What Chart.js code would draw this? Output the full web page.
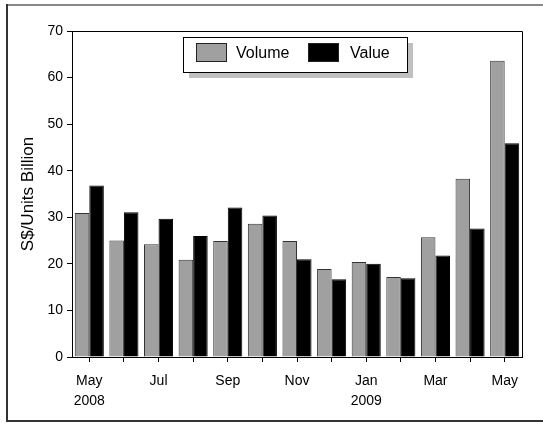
<!DOCTYPE html>
<html>
<head>
<meta charset="utf-8">
<script src="https://cdn.jsdelivr.net/npm/chart.js@4/dist/chart.umd.min.js"></script>
<style>
html,body{margin:0;padding:0;background:#fff;}
#wrap{width:543px;height:423px;position:relative;}
</style>
</head>
<body>
<div id="wrap"><canvas id="c" width="543" height="423"></canvas></div>
<script>
const categories = [["May","2008"],"",["Jul"],"",["Sep"],"",["Nov"],"",["Jan","2009"],"",["Mar"],"",["May"]];
const volume = [30.9,25.0,24.2,20.9,24.9,28.6,24.9,18.9,20.4,17.2,25.7,38.3,63.6];
const value  = [36.8,31.1,29.7,26.0,32.1,30.4,21.0,16.7,20.0,16.9,21.8,27.6,45.9];
const yTicks = [0,10,20,30,40,50,60,70];

const FONT = "'Liberation Sans', Arial, sans-serif";

const framePlugin = {
  id: 'frame',
  beforeDraw(chart) {
    const ctx = chart.ctx;
    ctx.save();
    ctx.fillStyle = '#fff';
    ctx.fillRect(0, 0, chart.width, chart.height);
    // outer frame (right edge falls outside the picture)
    ctx.fillStyle = '#888';
    ctx.fillRect(6, 4, chart.width - 6, 2);
    ctx.fillStyle = '#333';
    ctx.fillRect(6, 4, 2, 418);
    ctx.fillRect(6, 420, chart.width - 6, 2);
    ctx.restore();
  },
  afterDraw(chart) {
    const ctx = chart.ctx;
    const a = chart.chartArea;
    ctx.save();
    ctx.strokeStyle = '#000';
    ctx.lineWidth = 1;
    ctx.beginPath();
    ctx.moveTo(Math.round(a.left) + 0.5, Math.round(a.top) + 0.5);
    ctx.lineTo(Math.round(a.right) + 0.5, Math.round(a.top) + 0.5);
    ctx.lineTo(Math.round(a.right) + 0.5, Math.round(a.bottom) + 0.5);
    ctx.stroke();

    // legend with shadow
    const lx = 183, ly = 37, lw = 224, lh = 35;
    ctx.fillStyle = '#c0c0c0';
    ctx.fillRect(lx + 6, ly + 6, lw, lh);
    ctx.fillStyle = '#fff';
    ctx.fillRect(lx, ly, lw, lh);
    ctx.strokeStyle = '#000';
    ctx.strokeRect(lx + 0.5, ly + 0.5, lw, lh);
    const items = [
      {x: 196, tx: 236},
      {x: 308, tx: 350}
    ];
    chart.data.datasets.forEach((ds, i) => {
      const it = items[i];
      ctx.fillStyle = ds.backgroundColor;
      ctx.fillRect(it.x, 43, 30, 19);
      ctx.strokeStyle = '#222';
      ctx.strokeRect(it.x + 0.5, 43.5, 30, 18);
      ctx.fillStyle = '#000';
      ctx.font = '16px ' + FONT;
      ctx.textBaseline = 'middle';
      ctx.textAlign = 'left';
      ctx.fillText(ds.label, it.tx, 54);
    });
    ctx.restore();
  }
};

new Chart(document.getElementById('c'), {
  type: 'bar',
  data: {
    labels: categories,
    datasets: [
      {label: 'Volume', data: volume, backgroundColor: '#a0a0a0', borderColor: '#333', borderWidth: 1,
       categoryPercentage: 0.84, barPercentage: 1.0},
      {label: 'Value', data: value, backgroundColor: '#000000', borderColor: '#000', borderWidth: 1,
       categoryPercentage: 0.84, barPercentage: 1.0}
    ]
  },
  options: {
    responsive: false,
    animation: false,
    devicePixelRatio: 1,
    layout: {padding: {left: 18, right: 21, top: 31, bottom: 0}},
    plugins: {legend: {display: false}, tooltip: {enabled: false}},
    scales: {
      x: {
        grid: {display: true, drawOnChartArea: false, offset: false, tickLength: 5, color: '#000'},
        border: {display: true, color: '#000'},
        ticks: {color: '#000', font: {family: FONT, size: 14, lineHeight: 1.43}, padding: 9, maxRotation: 0, autoSkip: false},
        afterFit(s) { s.height = 423 - 357; }
      },
      y: {
        min: 0, max: 70,
        afterBuildTicks(s) { s.ticks = yTicks.map(v => ({value: v})); },
        grid: {display: true, drawOnChartArea: false, tickLength: 5, color: '#000'},
        border: {display: true, color: '#000'},
        ticks: {color: '#000', font: {family: FONT, size: 14}, padding: 4},
        title: {display: true, text: 'S$/Units Billion', color: '#000', font: {family: FONT, size: 17}, padding: {top: 0, bottom: 0}},
        afterFit(s) { s.width = 72 - 18; }
      }
    }
  },
  plugins: [framePlugin]
});
</script>
</body>
</html>
